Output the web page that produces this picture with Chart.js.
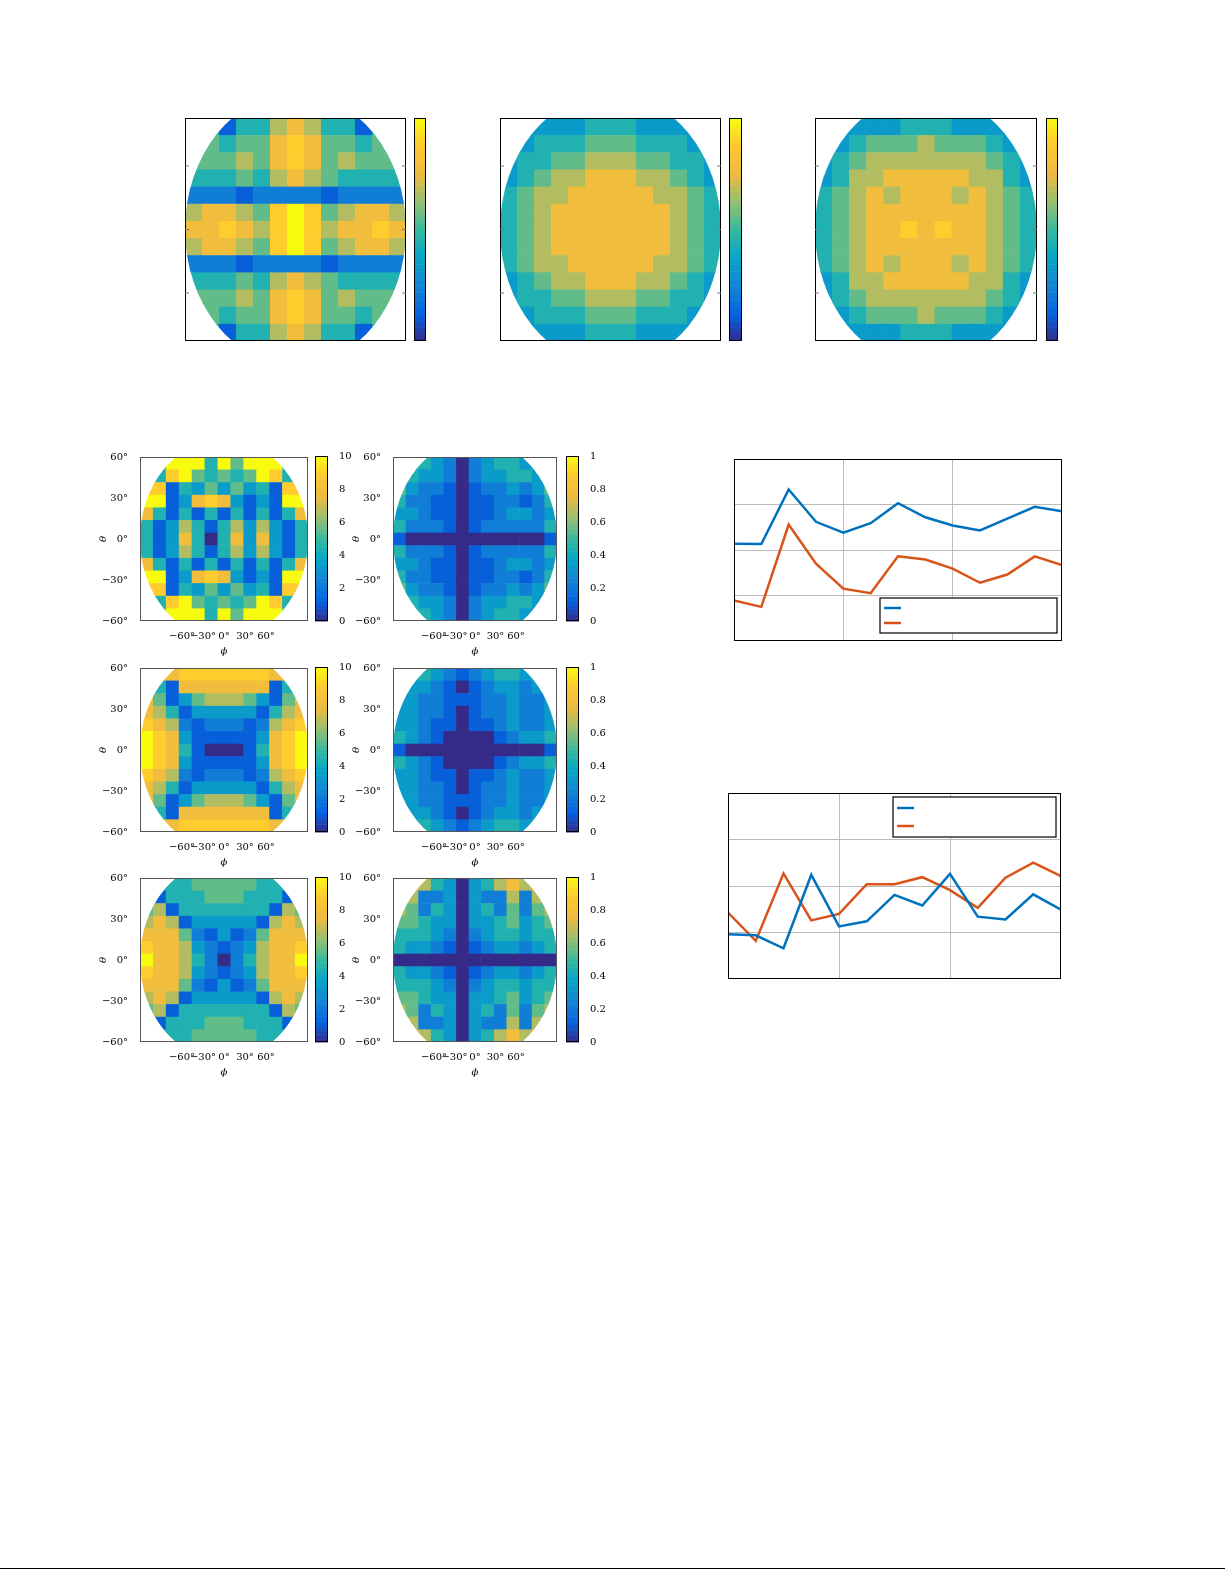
<!DOCTYPE html>
<html><head><meta charset="utf-8">
<script src="https://cdn.jsdelivr.net/npm/chart.js@4/dist/chart.umd.min.js"></script>
<style>body{margin:0;background:#fff;width:1225px;height:1585px;position:relative;overflow:hidden}
.c{position:absolute}
#rule{position:absolute;left:0;top:1568px;width:1225px;height:1px;background:#000}</style>
</head><body>
<div id="rule"></div>
<script>
// ---------- DATA ----------
// heat map grids: 13 rows (top -> bottom) x 13 columns, digit 0..9 = fraction of colour scale
const topMapA = ["4414467644144","4545578755454","5556578756555","4445467654444","2221222212222","6776589856776","7787689867787","6776589856776","2221222212222","4445467654444","5556578756555","4545578755454","4414467644144"];
const topMapB = ["2333344433332","3344455544433","3445566655443","3456677766543","4566777776654","4567777777654","4567777777654","4567777777654","4566777776654","3456677766543","3445566655443","3344455544433","2333344433332"];
const topMapC = ["2333344433332","3345556555433","3456666666543","3466777776643","4567677767654","4567777777654","4567787877654","4567777777654","4567677767654","3466777776643","3456666666543","3345556555433","2333344433332"];
const mapL1 = ["4599949599954","3489545459843","8814353534188","9913787313199","7414141414147","4136414636314","4137404737314","4136414636314","7414141414147","9913787313199","8814353534188","3489545459843","4599949599954"];
const mapL2 = ["6778888888776","6417777777146","7513566653157","7641333331467","8762122212678","9873111113789","9874100014789","9873111113789","8762122212678","7641333331467","7513566653157","6417777777146","6778888888776"];
const mapL3 = ["5444555554445","4144455544414","5614444444165","6761333331676","7775213125777","8776321236778","9776420246779","8776321236778","7775213125777","6761333331676","5614444444165","4144455544414","5444555554445"];
const mapR1 = ["5443202344345","4433202334434","5322101223235","4221101122124","3321101123323","4222101222224","1000000000001","4222101222224","3321101123323","4221101122124","5322101223235","4433202334434","5443202344345"];
const mapR2 = ["5443212344345","4332101233234","3322111223223","3322101223223","3321101123223","4321000012334","1000000000001","4321000012334","3321101123223","3322101223223","3322111223223","4332101233234","5443212344345"];
const mapR3 = ["8764303467678","7622303226267","6524303425256","5543303345345","4443202344344","4332101233234","0000000000000","4332101233234","4443202344344","5543303345345","6524303425256","7622303226267","8764303467678"];
const angleTicks = [-60,-30,0,30,60];
const cbTicks10 = [0,2,4,6,8,10];
const cbTicks1 = [0,0.2,0.4,0.6,0.8,1];
// line charts
const lineX = [0,1,2,3,4,5,6,7,8,9,10,11,12];
const line1Blue = [2.14,2.13,3.33,2.62,2.38,2.59,3.03,2.72,2.54,2.43,2.69,2.95,2.85];
const line1Orange = [0.89,0.75,2.56,1.70,1.15,1.05,1.86,1.79,1.59,1.28,1.46,1.86,1.67];
const line2Blue = [0.96,0.94,0.66,2.24,1.13,1.24,1.81,1.58,2.26,1.34,1.28,1.82,1.49];
const line2Orange = [1.43,0.82,2.27,1.26,1.40,2.04,2.04,2.19,1.91,1.53,2.18,2.50,2.21];

// ---------- helpers ----------
const PAR=[[0,[53,42,135]],[0.12,[3,99,225]],[0.25,[20,133,212]],[0.38,[6,167,198]],[0.5,[56,185,158]],[0.62,[146,191,115]],[0.75,[236,186,64]],[0.88,[254,200,48]],[1,[249,251,14]]];
function parula(t){t=Math.max(0,Math.min(1,t));for(let i=1;i<PAR.length;i++){if(t<=PAR[i][0]){const a=PAR[i-1],b=PAR[i],f=(t-a[0])/(b[0]-a[0]);const c=a[1].map((v,k)=>Math.round(v+(b[1][k]-v)*f));return `rgb(${c})`;}}return 'rgb(249,251,14)';}
const SERIF='"DejaVu Serif","Liberation Serif",serif';
Chart.defaults.font.family=SERIF;Chart.defaults.font.size=10;Chart.defaults.color='#000';
function box(id,l,t,w,h){const d=document.createElement('div');d.className='c';d.style.cssText=`left:${l}px;top:${t}px;width:${w}px;height:${h}px`;const c=document.createElement('canvas');c.id=id;d.appendChild(c);document.body.appendChild(d);return c;}

const heatPlugin={id:'heat',beforeDatasetsDraw(ch,a,o){if(!o.grid)return;const {ctx,chartArea:ca}=ch;const xs=ch.scales.x,ys=ch.scales.y;const g=o.grid,n=g.length,m=g[0].length;
 ctx.save();ctx.beginPath();const cx=(ca.left+ca.right)/2,cy=(ca.top+ca.bottom)/2;ctx.rect(ca.left,ca.top,ca.width,ca.height);ctx.clip();ctx.beginPath();ctx.ellipse(cx,cy,ca.width/2,ca.height*0.61,0,0,Math.PI*2);ctx.clip();
 for(let r=0;r<n;r++)for(let c=0;c<m;c++){const v=+g[r][c]/9;const x0=xs.getPixelForValue(xs.min+(xs.max-xs.min)*c/m),x1=xs.getPixelForValue(xs.min+(xs.max-xs.min)*(c+1)/m);const y0=ys.getPixelForValue(ys.max-(ys.max-ys.min)*r/n),y1=ys.getPixelForValue(ys.max-(ys.max-ys.min)*(r+1)/n);ctx.fillStyle=parula(v);ctx.fillRect(x0,y0,x1-x0+0.6,y1-y0+0.6);}
 ctx.restore();},
 afterDraw(ch,a,o){const {ctx,chartArea:ca}=ch;ctx.save();ctx.strokeStyle=o.frame||'#000';ctx.lineWidth=1;ctx.strokeRect(ca.left+0.5,ca.top+0.5,ca.width-1,ca.height-1);
 if(o.innerTicks){ctx.strokeStyle='#777';for(const t of ch.scales.y.ticks){const y=ch.scales.y.getPixelForValue(t.value);ctx.beginPath();ctx.moveTo(ca.left,y);ctx.lineTo(ca.left+4,y);ctx.moveTo(ca.right,y);ctx.lineTo(ca.right-4,y);ctx.stroke();}}
 if(o.bar){const ys=ch.scales.y;const N=64;for(let i=0;i<N;i++){const y0=ys.getPixelForValue(ys.min+(ys.max-ys.min)*(i+1)/N),y1=ys.getPixelForValue(ys.min+(ys.max-ys.min)*i/N);ctx.fillStyle=parula((i+0.5)/N);ctx.fillRect(ca.left,y0,ca.width,y1-y0+0.5);}ctx.strokeStyle='#000';ctx.strokeRect(ca.left+0.5,ca.top+0.5,ca.width-1,ca.height-1);}
 if(o.legend){const L=o.legend;ctx.fillStyle='#fff';ctx.fillRect(L.x,L.y,L.w,L.h);ctx.strokeStyle='#000';ctx.lineWidth=1.2;ctx.strokeRect(L.x,L.y,L.w,L.h);ctx.lineWidth=2.5;[['#0072BD',L.y1],['#D95319',L.y2]].forEach(([c,y])=>{ctx.strokeStyle=c;ctx.beginPath();ctx.moveTo(L.lx,y);ctx.lineTo(L.lx+17,y);ctx.stroke();});}
 ctx.restore();}};
Chart.register(heatPlugin);

function fixTicks(vals){return s=>{s.ticks=vals.map(v=>({value:v}));};}
function degLabel(v){return (v<0?'\u2212'+(-v):v)+'\u00b0';}

function topMap(id,grid,pl,pt,pw,ph){
 box(id,pl,pt,pw,ph);
 new Chart(document.getElementById(id),{type:'scatter',data:{datasets:[{data:[]}]},options:{animation:false,responsive:true,maintainAspectRatio:false,layout:{padding:0},
 plugins:{legend:{display:false},tooltip:{enabled:false},heat:{grid,innerTicks:true}},
 scales:{x:{display:false,min:-1,max:1},y:{display:false,min:-1,max:1,afterBuildTicks:fixTicks([-0.57,0,0.57])}}}});
}
function topBar(id,l,t,w,h){
 box(id,l,t,w,h);
 new Chart(document.getElementById(id),{type:'scatter',data:{datasets:[{data:[]}]},options:{animation:false,responsive:true,maintainAspectRatio:false,layout:{padding:0},
 plugins:{legend:{display:false},tooltip:{enabled:false},heat:{bar:true}},scales:{x:{display:false,min:0,max:1},y:{display:false,min:0,max:1}}}});
}
function lowMap(id,grid,pl,pt,pw,ph){
 box(id,pl-45,pt-8,pw+45+6,ph+8+36);
 new Chart(document.getElementById(id),{type:'scatter',data:{datasets:[{data:[]}]},options:{animation:false,responsive:true,maintainAspectRatio:false,layout:{padding:{top:8,right:6}},
 plugins:{legend:{display:false},tooltip:{enabled:false},heat:{grid,frame:'#555'}},
 scales:{x:{min:-120,max:120,afterBuildTicks:fixTicks(angleTicks),afterFit:s=>{s.height=36},ticks:{autoSkip:false,maxRotation:0,padding:1,callback:degLabel},grid:{display:false},border:{display:false},title:{display:true,text:'\u03d5',padding:0,font:{style:'italic'}}},
 y:{min:-60,max:60,afterBuildTicks:fixTicks(angleTicks),afterFit:s=>{s.width=45},ticks:{padding:4,callback:degLabel},grid:{display:false},border:{display:false},title:{display:true,text:'\u03b8',padding:2,font:{style:'italic'}}}}}});
}
function lowBar(id,l,pt,w,ph,max,ticks){
 box(id,l,pt-8,w+30,ph+8+36);
 new Chart(document.getElementById(id),{type:'scatter',data:{datasets:[{data:[]}]},options:{animation:false,responsive:true,maintainAspectRatio:false,layout:{padding:{top:8,bottom:36}},
 plugins:{legend:{display:false},tooltip:{enabled:false},heat:{bar:true}},
 scales:{x:{display:false,min:0,max:1},y:{position:'right',min:0,max,afterBuildTicks:fixTicks(ticks),afterFit:s=>{s.width=30},ticks:{padding:3,callback:v=>String(+v.toFixed(1))},grid:{display:false},border:{display:false}}}}});
}
function lineChart(id,pl,pt,pw,ph,blue,orange,leg){
 box(id,pl,pt,pw,ph);
 const L={x:leg.x-pl,y:leg.y-pt,w:leg.w,h:leg.h,lx:leg.lx-pl,y1:leg.y1-pt,y2:leg.y2-pt};
 new Chart(document.getElementById(id),{type:'line',data:{labels:lineX,datasets:[{data:blue,borderColor:'#0072BD',borderWidth:2.5,pointRadius:0,tension:0},{data:orange,borderColor:'#D95319',borderWidth:2.5,pointRadius:0,tension:0}]},
 options:{animation:false,responsive:true,maintainAspectRatio:false,layout:{padding:0},
 plugins:{legend:{display:false},tooltip:{enabled:false},heat:{legend:L}},
 scales:{x:{type:'linear',min:0,max:12,afterBuildTicks:fixTicks([0,4,8,12]),ticks:{display:false},grid:{color:'#bbb',drawTicks:false},border:{display:false}},
 y:{min:0,max:4,afterBuildTicks:fixTicks([0,1,2,3,4]),ticks:{display:false},grid:{color:'#bbb',drawTicks:false},border:{display:false}}}}});
}

// ---------- layout ----------
topMap('t1',topMapA,185,118,221,223); topBar('tb1',414,118,12,223);
topMap('t2',topMapB,500,118,221,223); topBar('tb2',729,118,13,223);
topMap('t3',topMapC,815,118,222,223); topBar('tb3',1046,118,12,223);

const rowsY=[455,666,876];
[[mapL1,mapR1],[mapL2,mapR2],[mapL3,mapR3]].forEach(([L,R],i)=>{
 const y=rowsY[i];
 lowMap('l'+i,L,140,y,168,166); lowBar('lb'+i,315,y,13,166,10,cbTicks10);
 lowMap('r'+i,R,393,y,164,166); lowBar('rb'+i,566,y,13,166,1,cbTicks1);
});

lineChart('p1',734,459,328,182,line1Blue,line1Orange,{x:880,y:598,w:177,h:35,lx:884,y1:608,y2:623});
lineChart('p2',728,793,333,186,line2Blue,line2Orange,{x:893,y:797,w:163,h:40,lx:897,y1:808,y2:826});
</script>
</body></html>
